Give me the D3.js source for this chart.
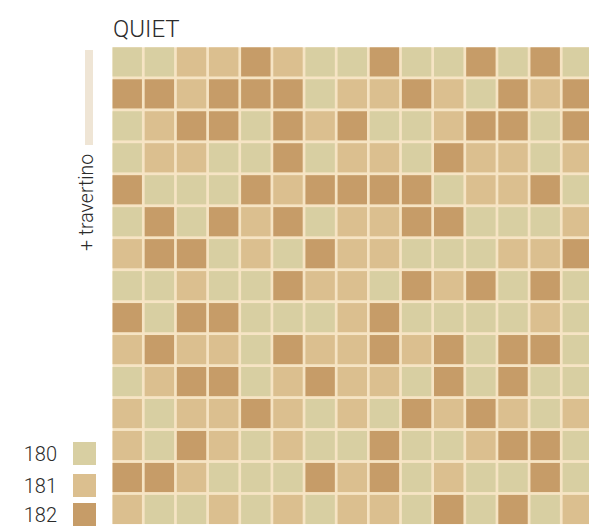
<!DOCTYPE html>
<html>
<head>
<meta charset="utf-8">
<script src="https://cdn.jsdelivr.net/npm/d3@7"></script>
<style>
  html, body { margin: 0; padding: 0; background: #ffffff; }
  svg { display: block; }
</style>
</head>
<body>
<svg id="chart" width="589" height="527"></svg>
<script>
// ---- data ----
const title = "QUIET";
const sideLabel = "+ travertino";
const categories = ["180", "181", "182"];
// tile colour code per row (15 rows x 15 columns)
const tileRows = [
  [180,180,181,181,182,181,180,180,182,180,180,182,180,182,180],
  [182,182,181,182,182,182,180,181,181,182,181,180,182,181,182],
  [180,181,182,182,180,182,181,182,180,180,181,182,182,180,182],
  [180,181,181,180,180,182,180,181,181,180,182,181,181,180,181],
  [182,180,180,180,182,181,182,182,182,182,180,181,181,182,180],
  [180,182,180,182,181,182,180,181,181,182,182,180,180,180,181],
  [181,182,182,180,181,180,182,181,181,180,180,180,181,181,182],
  [180,180,181,180,180,182,181,181,180,182,181,182,180,182,180],
  [182,180,182,182,180,180,180,181,182,180,180,180,180,181,180],
  [181,182,181,181,180,182,181,181,182,181,182,180,182,182,180],
  [180,181,182,182,180,181,182,181,181,180,182,180,182,180,180],
  [181,180,181,181,182,181,180,181,180,182,181,182,181,180,181],
  [181,180,182,181,180,181,180,180,182,180,180,181,182,182,180],
  [182,182,181,180,180,180,182,181,182,180,181,180,180,182,180],
  [181,180,180,181,180,181,180,181,181,180,182,180,182,180,181]
];
const colIndex = d3.range(15);
const rowIndex = d3.range(15);

// ---- drawing ----
const svg = d3.select("#chart");

const colour = d3.scaleOrdinal()
  .domain(categories)
  .range(["#d8cfa2", "#dbbf8f", "#c69c68"]);

const colStep = 32.15, rowStep = 31.97;
const gx0 = 111.15, gy0 = 45.9;
const x = d3.scaleBand().domain(colIndex)
  .range([gx0, gx0 + colIndex.length * colStep])
  .paddingInner(0.085).paddingOuter(0.0425);
const y = d3.scaleBand().domain(rowIndex)
  .range([gy0, gy0 + rowIndex.length * rowStep])
  .paddingInner(0.088).paddingOuter(0.044);

// grout background
svg.append("rect")
  .attr("x", x(0)).attr("y", y(0))
  .attr("width", 589 - x(0))
  .attr("height", y(14) + y.bandwidth() - y(0))
  .attr("fill", "#f6e4c4");

const cells = [];
tileRows.forEach((row, r) => row.forEach((v, c) => cells.push({ r, c, v: String(v) })));

svg.append("g").selectAll("rect")
  .data(cells)
  .join("rect")
  .attr("x", d => x(d.c))
  .attr("y", d => y(d.r))
  .attr("width", x.bandwidth())
  .attr("height", y.bandwidth())
  .attr("fill", d => colour(d.v));

// title
svg.append("text")
  .attr("x", 113).attr("y", 37)
  .attr("font-family", "Roboto, 'DejaVu Sans', sans-serif")
  .attr("font-weight", 300)
  .attr("font-size", 24)
  .attr("fill", "#2b2b2b")
  .text(title);

// travertino bar + label
svg.append("rect")
  .attr("x", 85).attr("y", 50).attr("width", 8).attr("height", 95)
  .attr("fill", "#efe5d5");
svg.append("text")
  .attr("transform", "translate(93,251) rotate(-90)")
  .attr("font-family", "Roboto, 'DejaVu Sans', sans-serif")
  .attr("font-weight", 300)
  .attr("font-size", 19.5)
  .attr("fill", "#2b2b2b")
  .text(sideLabel);

// legend
const legendOffsets = { "180": 0, "181": 32, "182": 61 };
const lg = svg.append("g").selectAll("g")
  .data(categories)
  .join("g")
  .attr("transform", d => `translate(0,${442 + legendOffsets[d]})`);
lg.append("rect")
  .attr("x", 73).attr("y", 0).attr("width", 23).attr("height", 23)
  .attr("fill", d => colour(d));
lg.append("text")
  .attr("x", 57).attr("y", 19)
  .attr("text-anchor", "end")
  .attr("font-family", "Roboto, 'DejaVu Sans', sans-serif")
  .attr("font-weight", 300)
  .attr("font-size", 20)
  .attr("fill", "#2b2b2b")
  .text(d => d);
</script>
</body>
</html>
